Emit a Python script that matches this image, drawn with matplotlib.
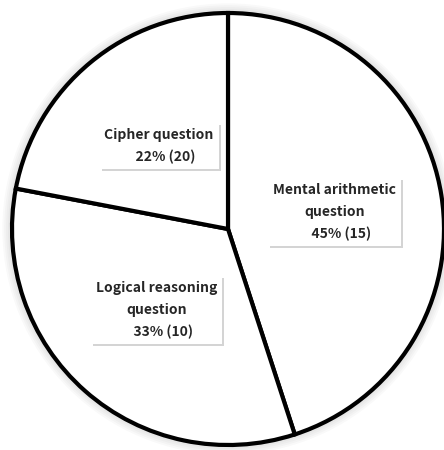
import numpy as np
import matplotlib
matplotlib.use("Agg")
import matplotlib.pyplot as plt
import matplotlib.patheffects as pe
from matplotlib.patches import Circle

# chart data (clockwise from 12 o'clock)
categories = ["Mental arithmetic\nquestion", "Logical reasoning\nquestion", "Cipher question"]
percents = [45, 33, 22]
counts = [15, 10, 20]

plt.rcParams["font.family"] = ["Noto Sans CJK JP", "DejaVu Sans"]

fig = plt.figure(figsize=(4.44, 4.5), dpi=100)
ax = fig.add_axes([0, 0, 1, 1])

# faint glow around the pie
for i in range(5):
    ax.add_patch(Circle((0, 0), 1.0 + 0.003 * i, fc="none", ec="#000000",
                        lw=3 + 1.8 * i, alpha=0.025, zorder=0))

wedges, _ = ax.pie(percents, startangle=90, counterclock=False,
                   colors=["white"] * len(percents),
                   wedgeprops=dict(edgecolor="black", linewidth=3, zorder=2))

label_r = 0.5
for w, cat, p, c in zip(wedges, categories, percents, counts):
    mid = np.deg2rad((w.theta1 + w.theta2) / 2)
    x, y = label_r * np.cos(mid), label_r * np.sin(mid)
    txt = ax.text(x, y, f"{cat}\n    {p}% ({c})", ha="center", va="center",
                  multialignment="center", fontsize=10, fontweight="bold",
                  color="#262626", linespacing=1.7, zorder=5,
                  bbox=dict(boxstyle="square,pad=0.35", fc="white", ec="none"))
    txt.get_bbox_patch().set_path_effects(
        [pe.SimplePatchShadow(offset=(1.5, -1.5), shadow_rgbFace="#aaaaaa", alpha=0.5),
         pe.Normal()])

ax.set_xlim(-228 / 216, 216 / 216)
ax.set_ylim(-221 / 216, 229 / 216)
ax.set_aspect("auto")
ax.axis("off")

fig.savefig("out.png", dpi=100, facecolor="white")
